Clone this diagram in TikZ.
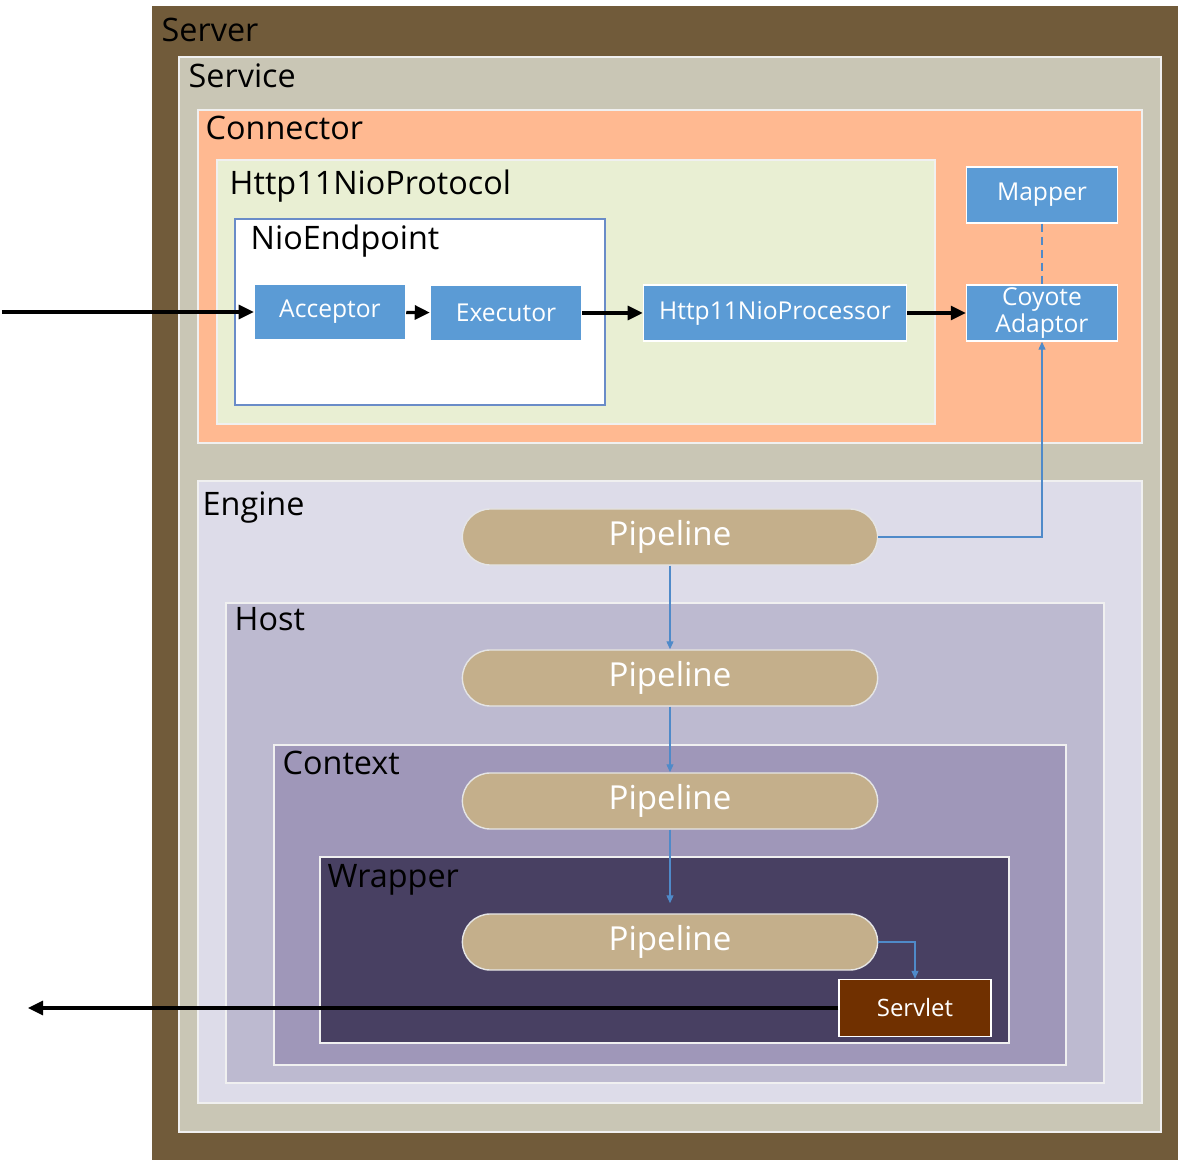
\documentclass[tikz,border=0pt]{standalone}
\usepackage{fontspec}
\setmainfont{Open Sans}
\usetikzlibrary{arrows.meta}

\definecolor{serverbrown}{HTML}{715B3A}
\definecolor{servicegray}{HTML}{C9C6B5}
\definecolor{connectorpeach}{HTML}{FFB991}
\definecolor{protocolgreen}{HTML}{E9EFD3}
\definecolor{enginelilac}{HTML}{DDDCE9}
\definecolor{hostlilac}{HTML}{BDBAD0}
\definecolor{contextlilac}{HTML}{9F97B9}
\definecolor{wrapperpurple}{HTML}{484062}
\definecolor{pipetan}{HTML}{C4AF8B}
\definecolor{servletbrown}{HTML}{703000}
\definecolor{blockblue}{HTML}{5B9BD5}
\definecolor{linkblue}{HTML}{4F8AC9}
\definecolor{endpointline}{HTML}{6A8CC8}

\tikzset{
  container/.style={draw=white!94!black, line width=0.4pt},
  title/.style={anchor=base west, inner sep=0pt, font=\fontsize{9.2}{10}\selectfont},
  block/.style={draw=white, line width=0.4pt, fill=blockblue, text=white, inner sep=0pt,
    minimum width=1.51cm, minimum height=0.56cm, align=center,
    font=\fontsize{7}{7.8}\selectfont},
  pipe/.style={draw=white!90!black, line width=0.4pt, fill=pipetan, text=white, inner sep=0pt,
    rounded corners=0.28cm, minimum width=4.15cm, minimum height=0.56cm,
    font=\fontsize{9.4}{10}\selectfont},
  flow/.style={line width=0.9pt, -{Triangle[length=0.15cm, width=0.14cm]}},
  link/.style={draw=linkblue, line width=0.35pt, -{Triangle[length=0.08cm, width=0.07cm]}}
}

\begin{document}
\begin{tikzpicture}[x=0.01cm, y=-0.01cm]
  \useasboundingbox (0,0) rectangle (1181,1161);

  % nested containers
  \fill[serverbrown] (152,6) rectangle (1178,1160);
  \draw[container, fill=servicegray] (179,57) rectangle (1161,1132);
  \draw[container, fill=connectorpeach] (198,110) rectangle (1142,443);
  \draw[container, fill=protocolgreen] (217,160) rectangle (935,424);
  \draw[draw=endpointline, line width=0.3pt, fill=white] (235,219) rectangle (605,405);
  \draw[container, fill=enginelilac] (198,481) rectangle (1142,1103);
  \draw[container, fill=hostlilac] (226,603) rectangle (1104,1083);
  \draw[container, fill=contextlilac] (274,745) rectangle (1066,1065);
  \draw[container, fill=wrapperpurple] (320,857) rectangle (1009,1043);

  \node[title] (serverlabel) at (161,42) {Server};
  \node[title] (servicelabel) at (188,88) {Service};
  \node[title] (connectorlabel) at (205,140) {Connector};
  \node[title] (protocollabel) at (229,195) {Http11NioProtocol};
  \node[title] (endpointlabel) at (250,250) {NioEndpoint};
  \node[title] (enginelabel) at (202,516) {Engine};
  \node[title] (hostlabel) at (234,631) {Host};
  \node[title] (contextlabel) at (282,775) {Context};
  \node[title] (wrapperlabel) at (327,888) {Wrapper};

  % connector blocks
  \node[block] (acceptor) at (330,312) {Acceptor};
  \node[block] (executor) at (506,313) {Executor};
  \node[block, minimum width=2.63cm] (processor) at (775,313) {Http11NioProcessor};
  \node[block] (mapper) at (1042,195) {Mapper};
  \node[block] (adaptor) at (1042,313) {Coyote\\Adaptor};

  % pipelines
  \node[pipe] (enginepipe) at (670,537) {Pipeline};
  \node[pipe] (hostpipe) at (670,678) {Pipeline};
  \node[pipe] (contextpipe) at (670,801) {Pipeline};
  \node[pipe] (wrapperpipe) at (670,942) {Pipeline};
  \node[draw=white, line width=0.4pt, fill=servletbrown, text=white, inner sep=0pt,
    minimum width=1.52cm, minimum height=0.57cm, font=\fontsize{6.8}{7}\selectfont]
    (servlet) at (915,1008) {Servlet};

  \coordinate (request) at (2,312);
  \coordinate (response) at (28,1008);

  \draw[flow] (request) -- (acceptor.west);
  \draw[flow] (acceptor) -- (executor);
  \draw[flow] (executor) -- (processor);
  \draw[flow] (processor) -- (adaptor);
  \draw[draw=linkblue, line width=0.35pt, dash pattern=on 0.08cm off 0.05cm] (mapper) -- (adaptor);
  \draw[link] (enginepipe.east) -| (adaptor.south);
  \draw[link] (enginepipe) -- (hostpipe);
  \draw[link] (hostpipe) -- (contextpipe);
  \draw[link, shorten >=0.1cm] (contextpipe) -- (wrapperpipe);
  \draw[link] (wrapperpipe.east) -| (servlet.north);
  \draw[flow] (servlet.west) -- (response);
\end{tikzpicture}
\end{document}
